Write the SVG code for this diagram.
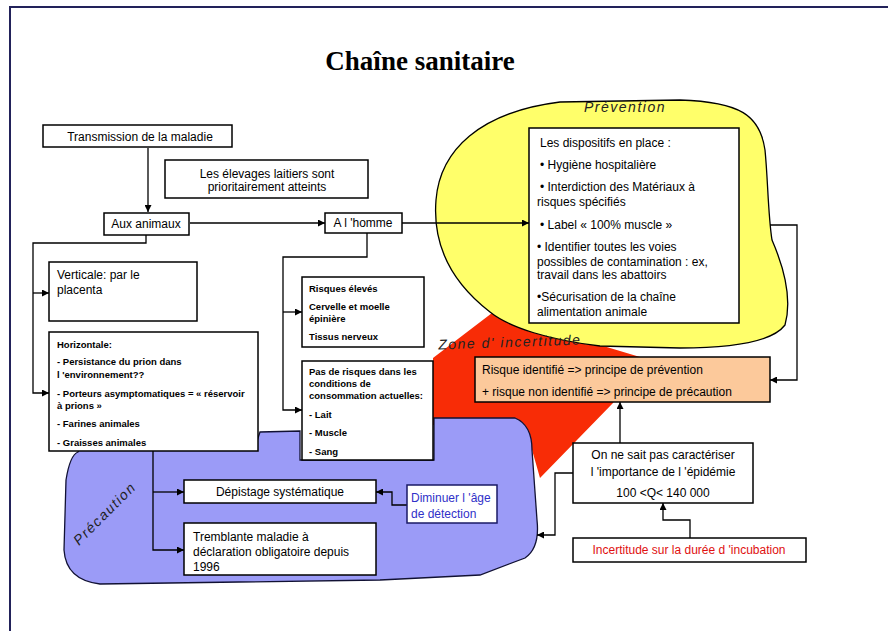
<svg xmlns="http://www.w3.org/2000/svg" width="888" height="631" viewBox="0 0 888 631">
<style>
.t{font-family:"Liberation Sans",Arial,sans-serif;font-size:12px;fill:#000}
.s{font-family:"Liberation Sans",Arial,sans-serif;font-size:9.5px;font-weight:bold;fill:#000}
.c{text-anchor:middle}
.box{fill:#fff;stroke:#000;stroke-width:1.5}
.lbl{font-family:"Liberation Sans",Arial,sans-serif;font-style:italic;font-size:14px;fill:#222;letter-spacing:1.5px}
.ln{fill:none;stroke:#000;stroke-width:1.3}
</style>
<defs>
<marker id="arr" viewBox="0 0 10 10" refX="10" refY="5" markerWidth="7" markerHeight="7" markerUnits="userSpaceOnUse" orient="auto">
<path d="M0,0 L10,5 L0,10 Z" fill="#000"/>
</marker>
</defs>
<rect width="888" height="631" fill="#fff"/>
<path d="M10,631 L10,7 L888,7" fill="none" stroke="#22225a" stroke-width="2"/>
<text x="420" y="70" text-anchor="middle" font-family="Liberation Serif,Times New Roman,serif" font-weight="bold" font-size="27">Chaîne sanitaire</text>

<g id="zone-incertitude">
<path d="M492,313 L433,358 L433,425 L525,425 L540,478 L613,403 L640,357 L600,345 L540,332 Z" fill="#f82c06"/>
</g>
<g id="zone-prevention">
<path d="M436,200 C440,150 480,112 560,102 L680,100 C740,102 760,115 765,150 C768,180 768,215 772,240 C785,270 792,300 785,325 C770,345 720,348 680,348 L600,346 C550,340 510,328 490,312 C455,285 432,250 436,200 Z" fill="#ffff6a" stroke="#000" stroke-width="1.3"/>
<text class="lbl" x="625" y="112" text-anchor="middle">Prévention</text>
</g>
<g id="zone-precaution">
<path d="M78,452 Q80,445 100,445 L257,441 L260,432 L300,431 L300,460 L434,460 L434,418 L515,418 Q532,425 532,450 L537,520 Q540,548 525,558 L480,575 L380,580 L100,584 Q66,580 64,550 L66,480 Q70,455 78,452 Z" fill="#9b9bf7" stroke="#111133" stroke-width="1.3"/>
<text class="lbl" transform="translate(108,517) rotate(-45)" text-anchor="middle">Précaution</text>
</g>
<text class="lbl" x="510" y="347" text-anchor="middle" transform="rotate(-2 510 347)">Zone d' incertitude</text>

<g id="connectors">
<path class="ln" d="M148,148 L148,212" marker-end="url(#arr)"/>
<path class="ln" d="M190,223 L325,223" marker-end="url(#arr)"/>
<path class="ln" d="M402,223 L529,223" marker-end="url(#arr)"/>
<path class="ln" d="M146,235 L146,243 L33,243 L33,393 L49,393" marker-end="url(#arr)"/>
<path class="ln" d="M33,293 L49,293" marker-end="url(#arr)"/>
<path class="ln" d="M367,232 L367,257 L283,257 L283,410 L302,410" marker-end="url(#arr)"/>
<path class="ln" d="M283,312 L302,312" marker-end="url(#arr)"/>
<path class="ln" d="M770,225 L797,225 L797,380 L770,380" marker-end="url(#arr)"/>
<path class="ln" d="M153,451 L153,550 L184,550" marker-end="url(#arr)"/>
<path class="ln" d="M153,492 L184,492" marker-end="url(#arr)"/>
<path class="ln" d="M407,505 L392,505 L392,492 L376,492" marker-end="url(#arr)"/>
<path class="ln" d="M573,473 L555,473 L555,535 L537,535" marker-end="url(#arr)"/>
<path class="ln" d="M690,538 L690,520 L663,520 L663,503" marker-end="url(#arr)"/>
<path class="ln" d="M620,443 L620,402" marker-end="url(#arr)"/>
</g>

<g id="transmission">
<rect class="box" x="43" y="125" width="189" height="22"/>
<text class="t c" x="140" y="141">Transmission de la maladie</text>
</g>
<g id="elevages">
<rect class="box" x="165" y="160" width="203" height="38"/>
<text class="t c" x="267" y="178">Les élevages laitiers sont</text>
<text class="t c" x="267" y="191">prioritairement atteints</text>
</g>
<g id="aux-animaux">
<rect class="box" x="104" y="213" width="85" height="22"/>
<text class="t c" x="146" y="228">Aux animaux</text>
</g>
<g id="a-l-homme">
<rect class="box" x="325" y="213" width="77" height="20"/>
<text class="t c" x="363" y="227">A l 'homme</text>
</g>
<g id="verticale">
<rect class="box" x="49" y="262" width="148" height="59"/>
<text class="t" x="57" y="279">Verticale: par le</text>
<text class="t" x="57" y="294">placenta</text>
</g>
<g id="horizontale">
<rect class="box" x="49" y="332" width="209" height="119"/>
<text class="s" x="57" y="348">Horizontale:</text>
<text class="s" x="57" y="365">- Persistance du prion dans</text>
<text class="s" x="57" y="378">l 'environnement??</text>
<text class="s" x="57" y="397">- Porteurs asymptomatiques = « réservoir</text>
<text class="s" x="57" y="409">à prions »</text>
<text class="s" x="57" y="427">- Farines animales</text>
<text class="s" x="57" y="446">- Graisses animales</text>
</g>
<g id="risques-eleves">
<rect class="box" x="302" y="277" width="122" height="70"/>
<text class="s" x="309" y="292">Risques élevés</text>
<text class="s" x="309" y="310">Cervelle et moelle</text>
<text class="s" x="309" y="322">épinière</text>
<text class="s" x="309" y="340">Tissus nerveux</text>
</g>
<g id="pas-de-risques">
<rect class="box" x="302" y="361" width="131" height="99"/>
<text class="s" x="309" y="375">Pas de risques dans les</text>
<text class="s" x="309" y="387">conditions de</text>
<text class="s" x="309" y="399">consommation actuelles:</text>
<text class="s" x="309" y="418">- Lait</text>
<text class="s" x="309" y="436">- Muscle</text>
<text class="s" x="309" y="455">- Sang</text>
</g>
<g id="dispositifs">
<rect class="box" x="529" y="128" width="210" height="195"/>
<text class="t" x="540" y="147">Les dispositifs en place :</text>
<text class="t" x="540" y="169">•  Hygiène hospitalière</text>
<text class="t" x="540" y="191">•  Interdiction des Matériaux à</text>
<text class="t" x="537" y="206">risques spécifiés</text>
<text class="t" x="540" y="229">•  Label « 100% muscle »</text>
<text class="t" x="537" y="251">• Identifier toutes les voies</text>
<text class="t" x="537" y="266">possibles de contamination : ex,</text>
<text class="t" x="537" y="279">travail dans les abattoirs</text>
<text class="t" x="537" y="301">•Sécurisation de la chaîne</text>
<text class="t" x="537" y="316">alimentation animale</text>
</g>
<g id="principes">
<rect x="475" y="357" width="295" height="45" fill="#fcc99b" stroke="#000" stroke-width="1.5"/>
<text class="t" x="482" y="374">Risque identifié =&gt; principe de prévention</text>
<text class="t" x="482" y="396">+ risque non identifié =&gt; principe de précaution</text>
</g>
<g id="depistage">
<rect class="box" x="184" y="480" width="192" height="23"/>
<text class="t c" x="280" y="496">Dépistage systématique</text>
</g>
<g id="diminuer">
<rect x="407" y="485" width="90" height="38" fill="#fff" stroke="#1a1a66" stroke-width="1.5"/>
<text class="t" x="411" y="502" style="fill:#3030c8">Diminuer l 'âge</text>
<text class="t" x="411" y="518" style="fill:#3030c8">de détection</text>
</g>
<g id="tremblante">
<rect class="box" x="184" y="523" width="192" height="52"/>
<text class="t" x="193" y="541">Tremblante maladie à</text>
<text class="t" x="193" y="556">déclaration obligatoire depuis</text>
<text class="t" x="193" y="571">1996</text>
</g>
<g id="importance">
<rect class="box" x="573" y="443" width="180" height="60"/>
<text class="t c" x="663" y="459">On ne sait pas caractériser</text>
<text class="t c" x="663" y="476">l 'importance de l 'épidémie</text>
<text class="t c" x="663" y="497">100 &lt;Q&lt; 140 000</text>
</g>
<g id="incubation">
<rect class="box" x="573" y="538" width="233" height="24"/>
<text class="t c" x="689" y="554" style="fill:#e01010">Incertitude sur la durée d 'incubation</text>
</g>
</svg>
